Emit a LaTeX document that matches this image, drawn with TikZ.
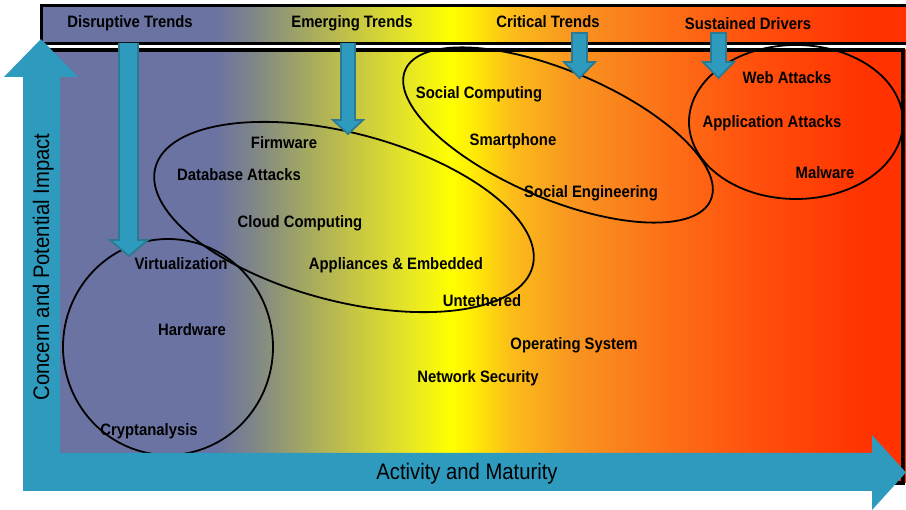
\documentclass[tikz,border=0pt]{standalone}
\usepackage{fontspec}
\setmainfont{Liberation Sans}[FakeStretch=0.9]
\definecolor{axisblue}{RGB}{46,154,190}
\definecolor{arrowedge}{RGB}{44,122,145}
\definecolor{ga}{RGB}{107,115,162}
\definecolor{gb}{RGB}{128,135,135}
\definecolor{gc}{RGB}{160,165,100}
\definecolor{gd}{RGB}{195,195,70}
\definecolor{ge}{RGB}{228,228,40}
\definecolor{gf}{RGB}{255,255,0}
\definecolor{gg}{RGB}{255,238,5}
\definecolor{gh}{RGB}{252,190,25}
\definecolor{gi}{RGB}{248,150,32}
\definecolor{gj}{RGB}{252,118,25}
\definecolor{gk}{RGB}{255,78,12}
\definecolor{gl}{RGB}{255,50,0}
\newcommand\gradband[2]{%
  \foreach \xa/\ca/\xb/\cb in {41/ga/215.5/ga,215/ga/255.5/gb,255/gb/300.5/gc,300/gc/350.5/gd,350/gd/405.5/ge,405/ge/450.5/gf,450/gf/470.5/gg,470/gg/510.5/gh,510/gh/570.5/gi,570/gi/650.5/gj,650/gj/760.5/gk,760/gk/870.5/gl,870/gl/908/gl}{%
    \shade[left color=\ca,right color=\cb] (\xa,#1) rectangle (\xb,#2);}%
}
\tikzset{
  lbl/.style={font=\bfseries\fontsize{16.5}{18}\selectfont, inner sep=0pt, text height=11.8pt, text depth=0pt},
  axlbl/.style={font=\fontsize{22.5}{24}\selectfont, inner sep=0pt, text height=16pt, text depth=0pt},
  oval/.style={draw=black, line width=1.8pt},
  downarrow/.style={fill=axisblue, draw=arrowedge, line width=1.8pt, line join=miter},
}
\begin{document}
\begin{tikzpicture}[x=1pt,y=-1pt]
\useasboundingbox (0,0) rectangle (906,510);
\fill[white] (0,0) rectangle (906,510);
% main field
\gradband{50}{483}
\draw[line width=4pt] (41,50.5) rectangle (903,483);
% ellipses
\draw[oval] (168,347) ellipse [x radius=105, y radius=108];
\draw[oval, rotate around={-14.7:(344,217)}] (344,217) ellipse [x radius=195, y radius=84];
\draw[oval, rotate around={-23:(558,135)}] (558,135) ellipse [x radius=166, y radius=64];
\draw[oval] (796,122) ellipse [x radius=107, y radius=77];
% top bar
\gradband{5.5}{43.5}
\draw[line width=3pt] (41,5.5) -- (910,5.5) (41,43.5) -- (910,43.5) (41,4) -- (41,45);
% axes
\fill[axisblue] (23,491) -- (23,77) -- (4,77) -- (41,39) -- (78,77) -- (60,77) -- (60,453)
  -- (872,453) -- (872,435) -- (906,472.5) -- (872,510) -- (872,491) -- cycle;
% down arrows
\draw[downarrow] (119,43) -- (119,240) -- (110,240) -- (129,256) -- (148,240) -- (138,240) -- (138,43);
\draw[downarrow] (341,43) -- (341,120) -- (333,120) -- (348,134) -- (363,120) -- (355,120) -- (355,43);
\draw[downarrow] (572,33) -- (572,62) -- (564,62) -- (579.5,78) -- (595,62) -- (587,62) -- (587,33) -- cycle;
\draw[downarrow] (711,33) -- (711,62) -- (703,62) -- (718.5,78) -- (734,62) -- (726,62) -- (726,33) -- cycle;
% headings
\node[lbl] (disr) at (130,22) {Disruptive Trends};
\node[lbl] (emer) at (352,22) {Emerging Trends};
\node[lbl] (crit) at (548,22) {Critical Trends};
\node[lbl] (sust) at (748,24) {Sustained Drivers};
% labels
\node[lbl] (soc) at (479,93) {Social Computing};
\node[lbl] (smart) at (513,140) {Smartphone};
\node[lbl] (soceng) at (591,192) {Social Engineering};
\node[lbl] (web) at (787,78) {Web Attacks};
\node[lbl] (app) at (772,122) {Application Attacks};
\node[lbl] (mal) at (825,173) {Malware};
\node[lbl] (firm) at (284,143) {Firmware};
\node[lbl] (db) at (239,175) {Database Attacks};
\node[lbl] (cloud) at (300,222) {Cloud Computing};
\node[lbl] (appl) at (396,264) {Appliances \& Embedded};
\node[lbl] (unt) at (482,301) {Untethered};
\node[lbl] (os) at (574,344) {Operating System};
\node[lbl] (net) at (478,377) {Network Security};
\node[lbl] (virt) at (181,264) {Virtualization};
\node[lbl] (hw) at (192,330) {Hardware};
\node[lbl] (crypt) at (149,430) {Cryptanalysis};
% axis labels
\node[axlbl] (xlab) at (467,472) {Activity and Maturity};
\node[axlbl, rotate=90] (ylab) at (41,267) {Concern and Potential Impact};
\end{tikzpicture}
\end{document}
